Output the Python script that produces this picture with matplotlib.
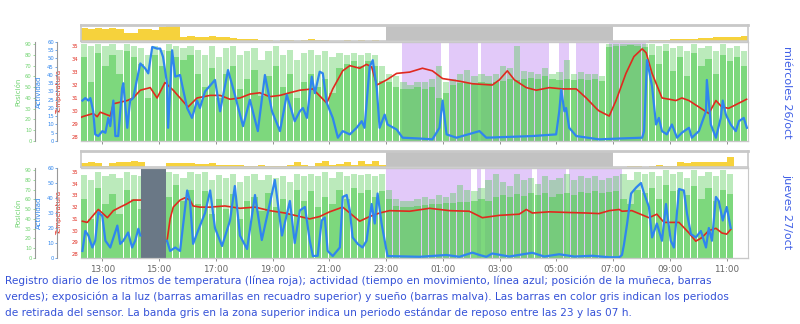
import numpy as np
import matplotlib.pyplot as plt

# --- shared grid for bars (15 min steps from 12:15) ---
t_start = 12.25
step = 0.25
n_bins = 94
bin_t = t_start + step * np.arange(n_bins)

# --- day 1: miércoles 26/oct ---
temp1_t = [12.25, 12.3, 12.68, 12.82, 12.93, 13.28, 13.39, 13.88, 14.09, 14.34, 14.69, 14.93, 15.21, 15.5,
           15.74, 16.02, 16.34, 16.8, 17.15, 17.5, 17.85, 18.2, 18.55, 18.9, 19.26, 19.6, 19.96, 20.42,
           20.91, 21.12, 21.47, 21.72, 22.07, 22.31, 22.49, 22.67, 23.02, 23.37, 23.83, 24.28, 24.63,
           24.99, 25.58, 26.04, 26.74, 26.99, 27.27, 27.52, 27.94, 28.29, 28.75, 29.2, 29.7, 30.05, 30.4,
           30.5, 30.86, 31.1, 31.45, 31.73, 32.02, 32.16, 32.37, 32.72, 32.97, 33.21, 33.42, 33.67, 34.02,
           34.37, 34.62, 34.83, 35.07, 35.43, 35.7]
temp1 = [29.5, 29.55, 29.8, 29.55, 29.9, 29.6, 30.55, 30.8, 31.0, 31.6, 31.8, 31.0, 32.2, 31.6,
         31.0, 30.3, 31.0, 31.2, 31.2, 30.9, 31.0, 31.3, 31.4, 31.1, 31.2, 31.4, 31.6, 31.7,
         30.6, 31.7, 33.1, 33.5, 33.3, 33.6, 33.4, 32.0, 32.4, 32.9, 33.0, 33.3, 33.1,
         32.5, 32.3, 32.1, 32.0, 32.4, 33.1, 32.4, 31.8, 31.6, 31.8, 31.7, 31.7, 31.0, 30.2,
         30.0, 29.6, 30.8, 32.9, 34.2, 34.8, 34.5, 32.9, 31.0, 30.9, 30.8, 31.0, 30.8, 30.3,
         29.8, 30.8, 30.3, 30.2, 30.6, 30.9]

act1_t = [12.3, 12.4, 12.51, 12.58, 12.68, 12.75, 12.86, 13.0, 13.11, 13.21, 13.28, 13.39, 13.46, 13.56,
          13.7, 13.74, 13.88, 13.98, 14.09, 14.23, 14.34, 14.51, 14.62, 14.76, 14.93, 15.04, 15.14,
          15.28, 15.32, 15.46, 15.57, 15.74, 15.85, 15.99, 16.16, 16.34, 16.44, 16.62, 16.97, 17.15,
          17.43, 17.67, 17.96, 18.2, 18.48, 18.73, 18.98, 19.26, 19.5, 19.78, 19.96, 20.07, 20.21,
          20.38, 20.49, 20.66, 20.77, 20.91, 21.12, 21.3, 21.47, 21.72, 21.96, 22.14, 22.24, 22.42,
          22.53, 22.67, 22.77, 22.95, 23.05, 23.37, 23.58, 24.18, 24.63, 24.88, 24.99, 25.13, 25.48,
          26.29, 26.53, 27.34, 28.15, 28.99, 29.1, 29.17, 29.28, 29.34, 29.45, 29.7, 30.5, 31.21,
          32.02, 32.09, 32.19, 32.26, 32.37, 32.51, 32.61, 32.72, 32.89, 33.07, 33.25, 33.42, 33.67,
          33.77, 34.02, 34.27, 34.3, 34.44, 34.62, 34.79, 34.86, 34.97, 35.14, 35.32, 35.43, 35.6, 35.71]
act1 = [24.5, 26, 24.5, 26, 18, 4, 3, 6, 5, 14, 9, 24.5, 3, 3,
        32, 35, 8, 24.5, 26, 38, 47, 44, 41, 57, 56, 56, 51,
        35, 8, 55, 39, 40, 31, 20, 14, 24.5, 20, 30, 37, 18,
        43, 28, 9, 25, 6, 40, 18, 6, 28, 12, 18, 20, 14,
        39, 29, 42, 41, 23, 14, 2, 6, 4, 8, 12, 8, 45,
        49, 32, 8, 16, 10, 7, 2, 1.5, 1, 8, 24.5, 4, 2,
        6, 2, 2.5, 3, 4, 18, 31, 18, 20, 8, 3, 1, 1.5,
        2, 6, 49, 43, 33, 10, 14, 6, 4, 10, 2, 5, 8,
        2, 6, 18, 37, 10, 2, 14, 24.5, 16, 10, 6, 12, 14, 8]

pos1 = [78, 55, 82, 70, 80, 62, 84, 78, 72, 40, 80, 70, 84, 78, 75, 80,
        62, 50, 68, 40, 62, 70, 48, 58, 66, 42, 60, 70, 50, 62, 40, 55,
        62, 50, 58, 45, 68, 72, 74, 70, 74, 70, 56, 55, 50, 48, 48, 50,
        48, 50, 40, 45, 52, 54, 54, 53, 55, 54, 55, 56, 58, 57, 58, 59,
        58, 60, 58, 57, 58, 57, 58, 57, 58, 56, 87, 88, 88, 89, 88, 87,
        80, 72, 84, 65, 78, 60, 82, 70, 76, 62, 80, 74, 78, 70]
pos1_hi = [90, 88, 90, 88, 90, 85, 90, 88, 86, 80, 88, 85, 90, 88, 86, 88,
           85, 80, 88, 78, 86, 88, 80, 84, 86, 75, 84, 88, 80, 85, 75, 82,
           85, 80, 84, 78, 82, 80, 82, 80, 82, 80, 70, 62, 60, 55, 52, 55,
           55, 58, 70, 55, 58, 62, 66, 60, 62, 60, 62, 70, 68, 88, 65, 64,
           62, 68, 62, 64, 75, 62, 64, 62, 62, 60, 90, 90, 90, 90, 90, 90,
           90, 88, 90, 86, 88, 84, 90, 86, 88, 84, 90, 86, 88, 84]
light1 = [80, 75, 82, 78, 80, 76, 52, 50, 74, 76, 70, 90, 95, 92, 28, 30,
          27, 24, 30, 22, 22, 20, 14, 12, 14, 9, 5, 2, 4, 7, 2, 6,
          12, 4, 7, 2, 3, 9, 2, 5, 2, 7, 3, 0, 0, 0, 0, 0,
          0, 0, 0, 0, 0, 0, 0, 0, 0, 0, 0, 0, 0, 0, 0, 0,
          0, 0, 0, 0, 0, 0, 0, 0, 0, 0, 0, 0, 0, 0, 0, 0,
          4, 6, 8, 10, 12, 15, 14, 18, 20, 22, 25, 26, 28, 30]
sleep1 = [(23.55, 24.95), (25.2, 26.25), (26.35, 28.75), (29.1, 29.45), (29.7, 30.5), (30.85, 32.15)]
off1 = []

# --- day 2: jueves 27/oct ---
temp2_t = [12.3, 12.47, 12.68, 12.86, 13.0, 13.18, 13.39, 13.63, 13.88, 14.09, 14.34, 14.35,
           15.27, 15.28, 15.39, 15.5, 15.74, 15.92, 16.09, 16.2, 16.44, 16.8, 17.32, 17.85, 18.38,
           18.9, 19.43, 19.96, 20.31, 20.66, 21.01, 21.47, 21.82, 22.07, 22.42, 22.77, 23.12, 23.83,
           24.53, 25.23, 25.93, 26.39, 26.99, 27.69, 27.94, 28.15, 28.75, 29.34, 30.05, 30.5, 30.86,
           31.21, 31.31, 31.66, 32.26, 32.54, 32.79, 33.32, 33.67, 33.91, 34.12, 34.37, 34.62, 34.83,
           35.0, 35.14]
temp2 = [30.8, 30.7, 31.3, 31.8, 31.5, 31.1, 31.7, 32.0, 32.3, 32.6, 32.6, np.nan,
         np.nan, 29.1, 31.0, 32.0, 32.6, 32.8, 32.6, 32.1, 32.0, 32.0, 32.1, 31.9, 32.0,
         31.7, 31.5, 31.2, 31.0, 31.2, 31.6, 32.0, 31.3, 30.8, 31.2, 31.5, 31.7, 31.65,
         31.9, 31.7, 31.65, 31.1, 31.3, 31.4, 31.8, 31.5, 31.6, 31.55, 31.5, 31.45, 31.7,
         31.8, 31.65, 31.7, 31.1, 31.4, 30.7, 30.7, 29.8, 29.1, 29.4, 30.0, 30.2, 29.8,
         29.7, 30.1]

act2_t = [12.3, 12.4, 12.51, 12.65, 12.75, 12.86, 13.0, 13.11, 13.28, 13.53, 13.63, 13.74, 13.91,
          14.05, 14.16, 14.27, 14.34, 14.35, 15.27, 15.28, 15.39, 15.57, 15.74, 15.99, 16.09, 16.2,
          16.37, 16.62, 16.8, 16.97, 17.22, 17.5, 17.67, 17.85, 18.1, 18.38, 18.62, 18.83, 19.08,
          19.33, 19.61, 19.78, 19.96, 20.14, 20.31, 20.42, 20.59, 20.73, 20.84, 20.94, 21.12, 21.37,
          21.47, 21.61, 21.72, 21.82, 22.0, 22.17, 22.31, 22.49, 22.6, 22.7, 22.84, 22.95, 23.05,
          24.18, 25.13, 25.58, 26.04, 26.29, 26.53, 26.74, 27.34, 28.15, 28.57, 29.1, 29.63, 30.26,
          30.86, 31.21, 31.31, 31.38, 31.49, 31.63, 31.81, 31.98, 32.09, 32.26, 32.37, 32.54, 32.72,
          32.86, 33.03, 33.14, 33.32, 33.49, 33.6, 33.74, 33.91, 34.09, 34.27, 34.37, 34.48, 34.62,
          34.72, 34.86, 35.0, 35.14]
act2 = [4.7, 18, 15, 7, 11.5, 30.5, 28, 11.5, 7, 21.6, 9.4, 11.5, 17,
        7, 11.5, 19.5, 15, np.nan, np.nan, 11.5, 4.7, 7, 4.7, 45, 38, 9.4,
        18, 30, 45, 20, 8, 25, 48, 15, 6, 42, 12, 30, 52,
        15, 38, 10, 31.7, 34, 11.5, 1.3, 1.5, 25, 27, 4.7, 1.3, 7,
        40.7, 42, 31.7, 13.7, 9.4, 7, 11.5, 36, 23, 43, 23, 11.5, 1.3,
        0.8, 2, 0.8, 3.6, 2, 0.8, 3, 1, 3.5, 1, 2.5, 1, 1.5,
        0.5, 0.5, 2, 9, 22.7, 43, 47, 50, 43, 34, 13.7, 23, 11.5,
        36, 11.5, 7, 46, 45, 29.7, 16, 13.7, 18, 7, 20, 11.5, 40.7,
        38, 25, 34, 20]

pos2 = [60, 40, 72, 55, 65, 45, 70, 60, 50, 0, 0, 0, 62, 75, 58, 70,
        55, 68, 45, 60, 50, 65, 40, 58, 62, 48, 66, 52, 60, 45, 70, 58,
        68, 52, 62, 55, 70, 60, 72, 66, 70, 62, 68, 60, 53, 52, 52, 53,
        54, 55, 55, 56, 56, 57, 57, 58, 60, 58, 62, 64, 62, 65, 63, 66,
        64, 66, 62, 65, 66, 64, 67, 66, 68, 66, 67, 68, 60, 55, 70, 66,
        72, 60, 75, 68, 70, 64, 74, 60, 72, 58, 70, 65, 0, 0]
pos2_hi = [85, 80, 88, 84, 86, 82, 88, 85, 84, 0, 0, 0, 88, 86, 82, 88,
           86, 88, 80, 85, 82, 86, 78, 84, 86, 80, 85, 82, 84, 78, 86, 84,
           86, 84, 88, 82, 88, 84, 86, 85, 86, 84, 86, 70, 60, 58, 58, 60,
           62, 60, 64, 62, 66, 75, 70, 68, 72, 80, 86, 78, 74, 86, 80, 82,
           76, 84, 80, 82, 86, 80, 84, 82, 84, 80, 82, 84, 86, 80, 88, 86,
           88, 84, 90, 86, 88, 82, 90, 84, 88, 84, 90, 86, 0, 0]
light2 = [28, 30, 22, 8, 28, 30, 32, 35, 30, 0, 0, 0, 22, 25, 24, 26,
          20, 18, 22, 15, 12, 10, 14, 8, 6, 10, 4, 8, 5, 12, 30, 10,
          8, 25, 35, 12, 20, 30, 15, 40, 20, 35, 10, 0, 0, 0, 0, 0,
          0, 0, 0, 0, 0, 0, 0, 0, 0, 0, 0, 0, 0, 0, 0, 0,
          0, 0, 0, 0, 0, 0, 0, 0, 0, 0, 0, 0, 2, 5, 8, 3,
          6, 10, 4, 8, 30, 28, 30, 32, 30, 32, 34, 60, 0, 0]
sleep2 = [(23.0, 26.0), (26.2, 26.35), (26.5, 28.15), (28.3, 29.35), (29.45, 31.3)]
off2 = [(14.37, 15.25)]

rest_band = (23.0, 31.0)
tick_hours = list(range(13, 37, 2))

GREEN = '#55cc55'
BLUE = '#2f86ee'
RED = '#e02a1e'
FRAME = '#c8c8c8'
XMIN, XMAX = 12.25, 35.75

fig = plt.figure(figsize=(8, 3.24), dpi=100)


def px_rect(x0, y0, x1, y1):
    return [x0 / 800, 1 - y1 / 324, (x1 - x0) / 800, (y1 - y0) / 324]


def draw_day(light_box, main_box, temp_t, temp, act_t, act, pos, pos_hi, light, sleep, off,
             act_step, show_xlabels):
    # light strip
    axl = fig.add_axes(px_rect(*light_box))
    axl.axvspan(*rest_band, color='#c2c2c2', lw=0)
    axl.bar(bin_t, light, width=step, align='edge', color='#f6d23c', lw=0)
    axl.set_xlim(XMIN, XMAX)
    axl.set_ylim(0, 100)
    axl.set_xticks([])
    axl.set_yticks([])
    for s in axl.spines.values():
        s.set_color(FRAME)
        s.set_linewidth(1.2)
    axl.spines['top'].set_linewidth(2)

    # main panel: position bars on base axes
    axp = fig.add_axes(px_rect(*main_box))
    for a, b in sleep:
        axp.axvspan(a, b, color='#e2c9f9', lw=0)
    axp.bar(bin_t, pos_hi, width=step * 0.88, align='edge', color=GREEN, alpha=0.4, lw=0)
    axp.bar(bin_t, pos, width=step * 0.88, align='edge', color=GREEN, alpha=0.6, lw=0)
    for a, b in off:
        axp.axvspan(a, b, color='#6a7886', lw=0, zorder=3)
    axp.set_xlim(XMIN, XMAX)
    axp.set_ylim(0, 92)
    axp.set_yticks(range(0, 91, 10))
    axp.spines['left'].set_position(('outward', 33))
    axp.spines['left'].set_color('#999999')
    axp.tick_params(axis='y', colors='#6fd36f', labelsize=3.8, length=1.5, width=0.5, pad=1)
    axp.set_ylabel('Posición', color='#6fd36f', fontsize=5)
    axp.yaxis.set_label_coords(-0.09, 0.5)

    # temperature
    axt = axp.twinx()
    axt.plot(temp_t, temp, color=RED, lw=1.2)
    axt.set_ylim(27.67, 35.33)
    axt.set_yticks(range(28, 36))
    axt.yaxis.tick_left()
    axt.yaxis.set_label_position('left')
    axt.spines['left'].set_visible(False)
    axt.tick_params(axis='y', colors=RED, labelsize=3.8, length=0, pad=2)
    axt.set_ylabel('Temperatura', color=RED, fontsize=5)
    axt.yaxis.set_label_coords(-0.028, 0.5)

    # activity
    axa = axp.twinx()
    axa.plot(act_t, act, color=BLUE, lw=1.6)
    axa.set_ylim(0, 60)
    axa.set_yticks(range(0, 61, act_step))
    axa.yaxis.tick_left()
    axa.yaxis.set_label_position('left')
    axa.spines['left'].set_position(('outward', 17))
    axa.spines['left'].set_color('#999999')
    axa.tick_params(axis='y', colors=BLUE, labelsize=3.8, length=1.5, width=0.5, pad=1)
    axa.set_ylabel('Actividad', color=BLUE, fontsize=5)
    axa.yaxis.set_label_coords(-0.059, 0.5)

    for ax in (axp, axt, axa):
        for side in ('top', 'right', 'bottom'):
            ax.spines[side].set_color(FRAME)
        ax.spines['right'].set_visible(ax is axp)

    axp.set_xticks(tick_hours)
    axp.set_xticklabels([f'{h % 24:02d}:00' for h in tick_hours] if show_xlabels else [])
    axp.tick_params(axis='x', colors='#666666', labelsize=6.3, length=2, width=0.5, pad=3)


draw_day((81, 25, 748, 41), (81, 42, 748, 141), temp1_t, temp1, act1_t, act1, pos1, pos1_hi, light1,
         sleep1, off1, 5, False)
draw_day((81, 151, 748, 167), (81, 168, 748, 258), temp2_t, temp2, act2_t, act2, pos2, pos2_hi, light2,
         sleep2, off2, 10, True)

fig.text(787 / 800, 1 - 92 / 324, 'miércoles 26/oct', rotation=270, ha='center', va='center',
         color='#3f5fe6', fontsize=8)
fig.text(787 / 800, 1 - 212 / 324, 'jueves 27/oct', rotation=270, ha='center', va='center',
         color='#3f5fe6', fontsize=8)

caption = [
    'Registro diario de los ritmos de temperatura (línea roja); actividad (tiempo en movimiento, línea azul; '
    'posición de la muñeca, barras',
    'verdes); exposición a la luz (barras amarillas en recuadro superior) y sueño (barras malva). '
    'Las barras en color gris indican los periodos',
    'de retirada del sensor. La banda gris en la zona superior indica un periodo estándar de reposo '
    'entre las 23 y las 07 h.',
]
for i, line in enumerate(caption):
    fig.text(5 / 800, 1 - (281 + 16 * i) / 324, line, ha='left', va='center', color='#3552d8',
             fontsize=7.6)

fig.savefig('out.png', dpi=100)
